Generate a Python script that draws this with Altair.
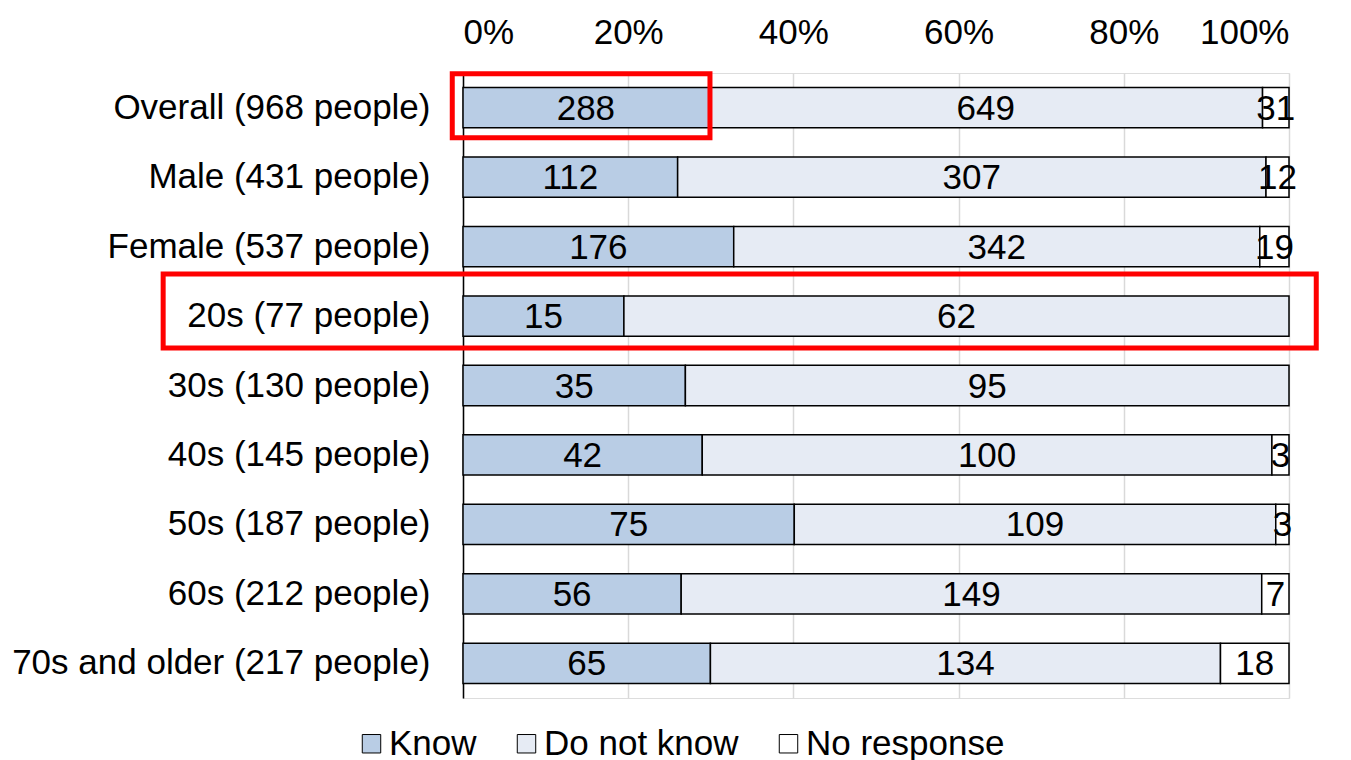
import altair as alt
import pandas as pd

categories = [
    "Overall (968 people)", "Male (431 people)", "Female (537 people)",
    "20s (77 people)", "30s (130 people)", "40s (145 people)",
    "50s (187 people)", "60s (212 people)", "70s and older (217 people)",
]
know = [288, 112, 176, 15, 35, 42, 75, 56, 65]
dont_know = [649, 307, 342, 62, 95, 100, 109, 149, 134]
no_response = [31, 12, 19, 0, 0, 3, 3, 7, 18]
responses = ["Know", "Do not know", "No response"]
colors = ["#b9cde5", "#e6ebf4", "#ffffff"]
x_ticks = [0, 0.2, 0.4, 0.6, 0.8, 1.0]

# highlighted boxes (in share units)
hl_overall = {"category": ["Overall (968 people)"], "x0": [-0.013], "x1": [0.299]}
hl_20s = {"category": ["20s (77 people)"], "x0": [-0.363], "x1": [1.033]}

rows = []
for i, c in enumerate(categories):
    vals = [know[i], dont_know[i], no_response[i]]
    total = sum(vals)
    s = 0
    for j, (r, v) in enumerate(zip(responses, vals)):
        rows.append(dict(category=c, response=r, order=j, count=v,
                         start=s / total, end=(s + v) / total,
                         mid=(s + v / 2) / total))
        s += v
df = pd.DataFrame(rows)

FONT = "Liberation Sans"
FS = 35

yscale = alt.Scale(domain=categories, paddingInner=0.42, paddingOuter=0.21)
xscale = alt.Scale(domain=[0, 1], nice=False, zero=False)

bars = alt.Chart(df).transform_filter("datum.count > 0").mark_bar(
    stroke="black", strokeWidth=1.5
).encode(
    y=alt.Y("category:N", scale=yscale, sort=categories,
            axis=alt.Axis(title=None, labelFontSize=FS, labelColor="black",
                          labelFont=FONT, ticks=False, domainColor="black",
                          domainWidth=1.5, labelPadding=33, grid=False,
                          labelLimit=700)),
    x=alt.X("start:Q", scale=xscale,
            axis=alt.Axis(orient="top", format="%", values=x_ticks, title=None,
                          labelFontSize=FS, labelColor="black", labelFont=FONT,
                          ticks=False, domain=False, grid=True,
                          gridColor="#d9d9d9", gridWidth=1.5, labelPadding=23)),
    x2="end:Q",
    color=alt.Color("response:N", scale=alt.Scale(domain=responses, range=colors),
                    legend=alt.Legend(title=None, orient="none", direction="horizontal",
                                      legendX=-109, legendY=653,
                                      labelFontSize=FS, labelFont=FONT,
                                      labelColor="black", labelLimit=400,
                                      symbolType="square",
                                      symbolSize=340, symbolStrokeColor="black",
                                      symbolStrokeWidth=1, columnPadding=32,
                                      labelOffset=0)),
    order=alt.Order("order:Q"),
)

texts = alt.Chart(df).transform_filter("datum.count > 0").mark_text(
    fontSize=FS, font=FONT, color="black", baseline="middle", align="center", dy=1
).encode(
    y=alt.Y("category:N", scale=yscale, sort=categories),
    x=alt.X("mid:Q", scale=xscale),
    text="count:Q",
)

box1 = alt.Chart(pd.DataFrame(hl_overall)).mark_rect(
    fill=None, stroke="#ff0000", strokeWidth=5, height=64, yOffset=-2
).encode(
    y=alt.Y("category:N", scale=yscale, sort=categories),
    x=alt.X("x0:Q", scale=xscale), x2="x1:Q",
)
box2 = alt.Chart(pd.DataFrame(hl_20s)).mark_rect(
    fill=None, stroke="#ff0000", strokeWidth=5, height=74, yOffset=-5
).encode(
    y=alt.Y("category:N", scale=yscale, sort=categories),
    x=alt.X("x0:Q", scale=xscale), x2="x1:Q",
)

chart = alt.layer(bars, texts, box1, box2).properties(
    width=826, height=625,
    padding={"left": 3, "top": 7, "right": 5, "bottom": 5},
).configure_view(stroke=None).configure(font=FONT)

chart.save("out.html", embed_options={"renderer": "svg", "actions": False})
